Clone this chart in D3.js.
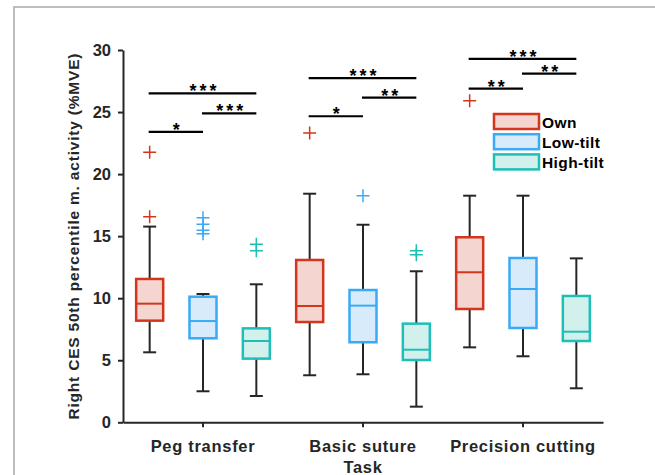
<!DOCTYPE html>
<html>
<head>
<meta charset="utf-8">
<script src="https://cdn.jsdelivr.net/npm/d3@7"></script>
<style>
  body { margin: 0; background: #fff; }
  svg text { font-family: "Liberation Sans", Arial, sans-serif; font-weight: bold; }
</style>
</head>
<body>
<div id="chart"></div>
<script>
// data (per task: Own, Low-tilt, High-tilt)
const tasks = ["Peg transfer", "Basic suture", "Precision cutting"];
const conditions = ["Own", "Low-tilt", "High-tilt"];
const whiskerLow  = [[5.64, 2.50, 2.12], [3.79, 3.87, 1.26], [6.04, 5.32, 2.74]];
const q1          = [[8.19, 6.77, 5.13], [8.08, 6.45, 5.02], [9.13, 7.60, 6.55]];
const medians     = [[9.56, 8.16, 6.55], [9.37, 9.40, 5.85], [12.09, 10.74, 7.30]];
const q3          = [[11.55, 10.12, 7.57], [13.08, 10.66, 7.95], [14.91, 13.24, 10.18]];
const whiskerHigh = [[15.77, 10.34, 11.12], [18.42, 15.92, 12.17], [18.26, 18.26, 13.21]];
const outliers    = [
  [[21.76, 16.57], [16.49, 15.95, 15.47, 15.2], [14.34, 13.83]],
  [[23.31], [18.26], [13.83, 13.51]],
  [[25.91], [], []]
];
// significance brackets: task index, from condition, to condition, height, label
const sigTask  = [0, 0, 0, 1, 1, 1, 2, 2, 2];
const sigFrom  = [0, 1, 0, 0, 1, 0, 0, 1, 0];
const sigTo    = [1, 2, 2, 1, 2, 2, 1, 2, 2];
const sigLevel = [23.4, 24.9, 26.5, 24.66, 26.16, 27.74, 26.88, 28.1, 29.28];
const sigLabel = ["*", "***", "***", "*", "**", "***", "**", "**", "***"];
const yTicks = [0, 5, 10, 15, 20, 25, 30];

const edgeColors = ["#d3361c", "#3aaaf6", "#1dbfb7"];
const fillColors = ["#f4d5cf", "#d7ebfb", "#d2f0ec"];
const ink = "#262626";

const W = 655, H = 475;
const svg = d3.select("#chart").append("svg")
              .attr("width", W)
              .attr("height", H);

// figure frame
svg.append("path")
   .attr("d", "M14,475V7H655")
   .attr("fill", "none")
   .attr("stroke", "#a9a9a9")
   .attr("stroke-width", 1.5);

const x = d3.scaleBand().domain(tasks).range([123, 603]);
const inner = d3.scaleBand().domain(conditions).range([0, x.bandwidth()]);
const y = d3.scaleLinear().domain([0, 30]).range([422.3, 50]);
const boxW = 27, capW = 13;

const cx = (t, c) => x(tasks[t]) + inner(conditions[c]) + inner.bandwidth() / 2;

// axes
const yAxis = svg.append("g")
                 .attr("transform", "translate(123,0)")
                 .call(d3.axisLeft(y).tickValues(yTicks).tickSize(5).tickSizeOuter(0).tickPadding(7));
const xAxis = svg.append("g")
                 .attr("transform", "translate(0," + y(0) + ")")
                 .call(d3.axisBottom(x).tickSize(5).tickSizeOuter(0).tickPadding(10));
[yAxis, xAxis].forEach(a => {
    a.selectAll("path, line").attr("stroke", ink).attr("stroke-width", 2);
    a.selectAll("text").attr("fill", ink).style("font-size", "16.5px")
     .style("font-family", "'Liberation Sans', Arial, sans-serif").style("font-weight", "bold");
});
xAxis.selectAll("text").attr("dy", "0.9em").style("letter-spacing", "0.7px");

svg.append("text")
   .attr("x", 363).attr("y", 473)
   .attr("text-anchor", "middle")
   .attr("fill", ink)
   .style("font-size", "16.5px")
   .style("letter-spacing", "0.7px")
   .text("Task");

svg.append("text")
   .attr("transform", "translate(79," + (y(15)) + ") rotate(-90)")
   .attr("text-anchor", "middle")
   .attr("fill", ink)
   .style("font-size", "15.5px")
   .style("letter-spacing", "0.8px")
   .text("Right CES 50th percentile m. activity (%MVE)");

// boxes
const plot = svg.append("g");
tasks.forEach((task, t) => {
    conditions.forEach((cond, c) => {
        const xc = cx(t, c);
        const g = plot.append("g");
        g.append("line")
         .attr("x1", xc).attr("x2", xc)
         .attr("y1", y(whiskerLow[t][c])).attr("y2", y(whiskerHigh[t][c]))
         .attr("stroke", ink).attr("stroke-width", 2);
        [whiskerLow[t][c], whiskerHigh[t][c]].forEach(v => {
            g.append("line")
             .attr("x1", xc - capW / 2).attr("x2", xc + capW / 2)
             .attr("y1", y(v)).attr("y2", y(v))
             .attr("stroke", ink).attr("stroke-width", 2);
        });
        g.append("rect")
         .attr("x", xc - boxW / 2)
         .attr("y", y(q3[t][c]))
         .attr("width", boxW)
         .attr("height", y(q1[t][c]) - y(q3[t][c]))
         .attr("fill", fillColors[c])
         .attr("stroke", edgeColors[c])
         .attr("stroke-width", 2.5);
        g.append("line")
         .attr("x1", xc - boxW / 2).attr("x2", xc + boxW / 2)
         .attr("y1", y(medians[t][c])).attr("y2", y(medians[t][c]))
         .attr("stroke", edgeColors[c]).attr("stroke-width", 2);
        g.selectAll(".outlier")
         .data(outliers[t][c])
         .enter().append("path")
         .attr("class", "outlier")
         .attr("transform", d => "translate(" + xc + "," + y(d) + ")")
         .attr("d", "M-6.5,0H6.5M0,-6.5V6.5")
         .attr("fill", "none")
         .attr("stroke", edgeColors[c])
         .attr("stroke-width", 1.5);
    });
});

// significance brackets
sigLabel.forEach((lab, i) => {
    const x1 = cx(sigTask[i], sigFrom[i]) - 1;
    const x2 = cx(sigTask[i], sigTo[i]);
    const yy = y(sigLevel[i]);
    svg.append("line")
       .attr("x1", x1).attr("x2", x2)
       .attr("y1", yy).attr("y2", yy)
       .attr("stroke", "#000").attr("stroke-width", 2.2);
    svg.append("text")
       .attr("x", (x1 + x2) / 2 + 2).attr("y", yy + 4)
       .attr("text-anchor", "middle")
       .attr("fill", "#000")
       .style("font-size", "18px")
       .style("letter-spacing", "3px")
       .text(lab);
});

// legend
const legend = svg.append("g").attr("transform", "translate(494,114)");
conditions.forEach((cond, c) => {
    const row = legend.append("g").attr("transform", "translate(0," + c * 20.2 + ")");
    row.append("rect")
       .attr("width", 45).attr("height", 15)
       .attr("fill", fillColors[c])
       .attr("stroke", edgeColors[c])
       .attr("stroke-width", 2.5);
    row.append("text")
       .attr("x", 48).attr("y", 13.5)
       .attr("fill", "#000")
       .style("font-size", "15.5px")
       .style("letter-spacing", "0.4px")
       .text(cond);
});
</script>
</body>
</html>
